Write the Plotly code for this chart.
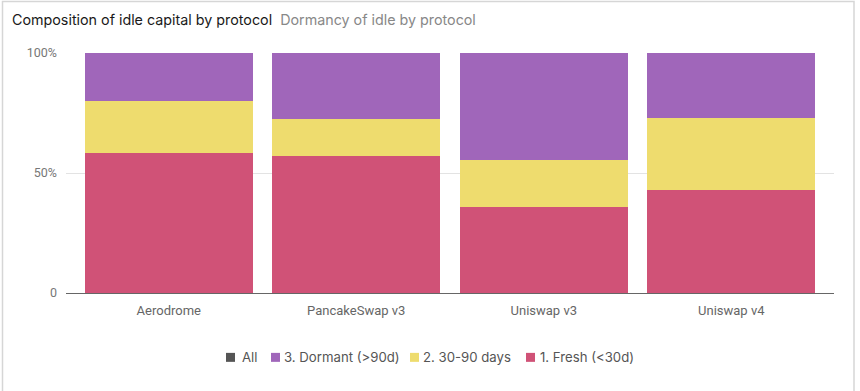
import plotly.graph_objects as go

protocols = ["Aerodrome", "PancakeSwap v3", "Uniswap v3", "Uniswap v4"]
fresh = [58.3, 56.9, 35.8, 42.9]
mid = [21.7, 15.5, 19.6, 29.9]
dormant = [20.0, 27.6, 44.6, 27.2]

tick_vals = [0, 50, 100]
tick_text = ["0", "50%", "100%"]

legend_names = ["All", "3. Dormant (>90d)", "2. 30-90 days", "1. Fresh (<30d)"]

c_fresh = "#D05277"
c_mid = "#EEDC6E"
c_dormant = "#A066BA"
c_all = "#555555"
legend_colors = [c_all, c_dormant, c_mid, c_fresh]

fig = go.Figure()
fig.add_trace(go.Bar(x=protocols, y=fresh, name=legend_names[3], marker=dict(color=c_fresh, line=dict(width=0))))
fig.add_trace(go.Bar(x=protocols, y=mid, name=legend_names[2], marker=dict(color=c_mid, line=dict(width=0))))
fig.add_trace(go.Bar(x=protocols, y=dormant, name=legend_names[1], marker=dict(color=c_dormant, line=dict(width=0))))

# plot area geometry: x 66..834, y 53..293.5
L, R, T, B = 66, 834, 53, 293.5
W, H = 860, 391
pw, ph = R - L, B - T


def px(x):
    return (x - L) / pw


def py(y):
    return (B - y) / ph


fig.update_layout(
    width=W, height=H,
    margin=dict(l=L, r=W - R, t=T, b=H - B),
    barmode="stack",
    bargap=0.104,
    paper_bgcolor="white",
    plot_bgcolor="white",
    font=dict(family="Roboto", color="#666666", size=12),
    showlegend=False,
    xaxis=dict(
        range=[-0.548, 3.548],
        showgrid=False,
        showline=True, linecolor="#666666", linewidth=1.2,
        ticks="", ticklabelstandoff=5,
        tickfont=dict(family="Roboto", size=13, color="#666666"),
        fixedrange=True,
    ),
    yaxis=dict(
        range=[0, 100],
        tickvals=tick_vals, ticktext=tick_text,
        showgrid=True, gridcolor="#e3e3e3", gridwidth=1,
        zeroline=False, showline=False,
        ticks="", ticklabelstandoff=8,
        tickfont=dict(family="Roboto", size=12.5, color="#777777"),
        fixedrange=True,
    ),
)

fig.add_annotation(
    xref="paper", yref="paper",
    x=px(10), y=py(19), xanchor="left", yanchor="middle",
    text="<span style='color:#1a1a1a'>Composition of idle capital by protocol</span>"
         "  <span style='color:#888888'>Dormancy of idle by protocol</span>",
    showarrow=False, font=dict(family="Inter", size=14.3),
)

# custom legend (square swatch + label)
sq_x = [226, 271, 410, 526]
txt_x = [240, 282, 421, 538]
ly = 358
for name, col, sx, tx in zip(legend_names, legend_colors, sq_x, txt_x):
    x0, x1, y0, y1 = px(sx), px(sx + 9), py(ly + 4.5), py(ly - 4.5)
    fig.add_shape(type="rect", xref="paper", yref="paper", x0=x0, x1=x1, y0=y0, y1=y1,
                  fillcolor=col, line=dict(width=0))
    fig.add_annotation(xref="paper", yref="paper", x=px(tx), y=py(ly), xanchor="left", yanchor="middle",
                       text=name, showarrow=False, font=dict(family="Inter", size=13.2, color="#555555"))

# card border
fig.add_shape(
    type="rect", xref="paper", yref="paper",
    x0=px(2.5), x1=px(854),
    y0=py(420), y1=py(1.5),
    line=dict(color="#d6d6d6", width=1.5), fillcolor="rgba(0,0,0,0)", layer="below",
)

fig.write_html("out.html")
